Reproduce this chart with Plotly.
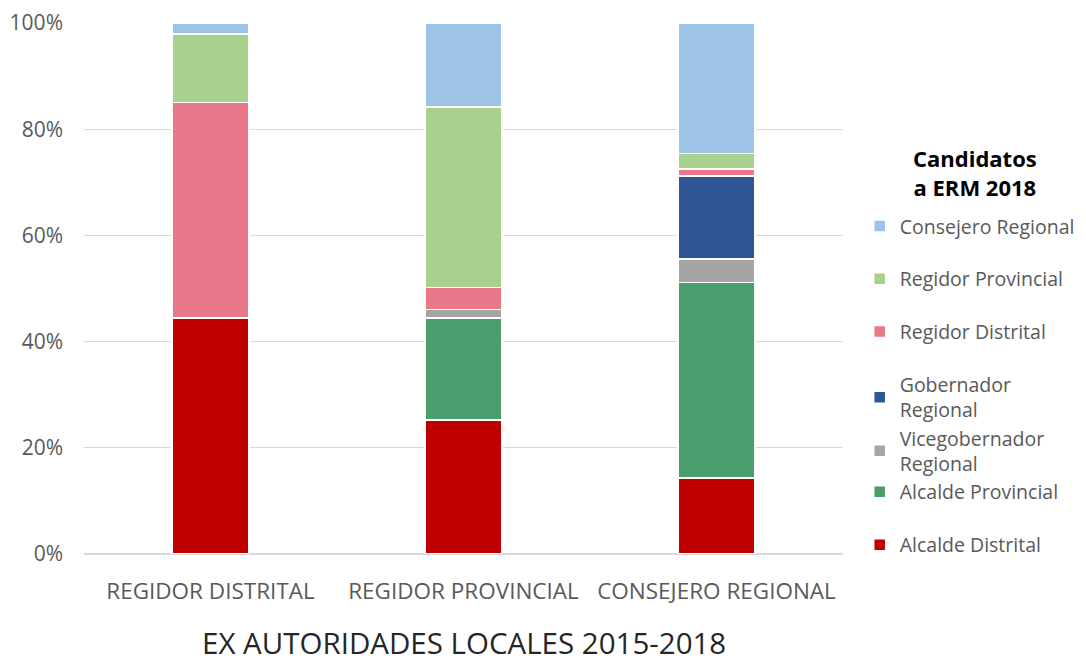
import plotly.graph_objects as go

categories = ["REGIDOR DISTRITAL", "REGIDOR PROVINCIAL", "CONSEJERO REGIONAL"]

series_names = [
    "Alcalde Distrital",
    "Alcalde Provincial",
    "Vicegobernador<br>Regional",
    "Gobernador<br>Regional",
    "Regidor Distrital",
    "Regidor Provincial",
    "Consejero Regional",
]
alcalde_distrital = [44.4, 25.2, 14.3]
alcalde_provincial = [0.0, 19.2, 36.8]
vicegobernador = [0.0, 1.6, 4.5]
gobernador = [0.0, 0.0, 15.6]
regidor_distrital = [40.6, 4.2, 1.3]
regidor_provincial = [12.9, 34.0, 2.9]
consejero_regional = [2.1, 15.8, 24.6]

series_values = [alcalde_distrital, alcalde_provincial, vicegobernador, gobernador,
                 regidor_distrital, regidor_provincial, consejero_regional]
colors = ["#C00000", "#4A9D6C", "#A5A5A5", "#2F5597", "#E8788A", "#A9D18E", "#9DC3E6"]
legend_groups = ["e", "d", "d", "d", "c", "b", "a"]
legend_ranks = [7, 6, 5, 4, 3, 2, 1]

tick_vals = [0, 20, 40, 60, 80, 100]
tick_text = ["0%", "20%", "40%", "60%", "80%", "100%"]

fig = go.Figure()
for name, vals, col, grp, rank in zip(series_names, series_values, colors, legend_groups, legend_ranks):
    fig.add_trace(go.Bar(
        x=categories, y=vals, name=name, legendgroup=grp, legendrank=rank,
        marker=dict(color=col, line=dict(color="white", width=1.5)),
    ))

fig.add_annotation(
    text="<b>Candidatos<br>a ERM 2018</b>",
    xref="paper", yref="paper", x=1.174, y=0.719,
    xanchor="center", yanchor="middle", showarrow=False,
    font=dict(size=22, color="#000000"),
)
fig.add_annotation(
    text="EX AUTORIDADES LOCALES 2015-2018",
    xref="paper", yref="paper", x=0.5, y=-0.166,
    xanchor="center", yanchor="middle", showarrow=False,
    font=dict(size=29.5, color="#262626"),
)

fig.update_layout(
    barmode="stack",
    bargap=0.695,
    width=1078, height=654,
    margin=dict(l=76, r=243, t=15, b=108, autoexpand=False),
    paper_bgcolor="white", plot_bgcolor="white",
    font=dict(family="Open Sans", color="#595959", size=20),
    showlegend=True,
    legend=dict(
        x=1.022, y=0.654, xanchor="left", yanchor="top",
        traceorder="grouped", tracegroupgap=24.5,
        font=dict(size=19.5, color="#595959"),
    ),
    xaxis=dict(
        tickfont=dict(size=22.5, color="#595959"),
        ticklabelstandoff=21,
        showline=False, ticks="",
    ),
    yaxis=dict(
        range=[0, 100], tickvals=tick_vals, ticktext=tick_text,
        showgrid=True, gridcolor="#D9D9D9", gridwidth=1,
        zeroline=True, zerolinecolor="#D9D9D9",
        tickfont=dict(size=21, color="#595959"),
        ticklabelstandoff=20,
    ),
)

fig.write_html("out.html")
